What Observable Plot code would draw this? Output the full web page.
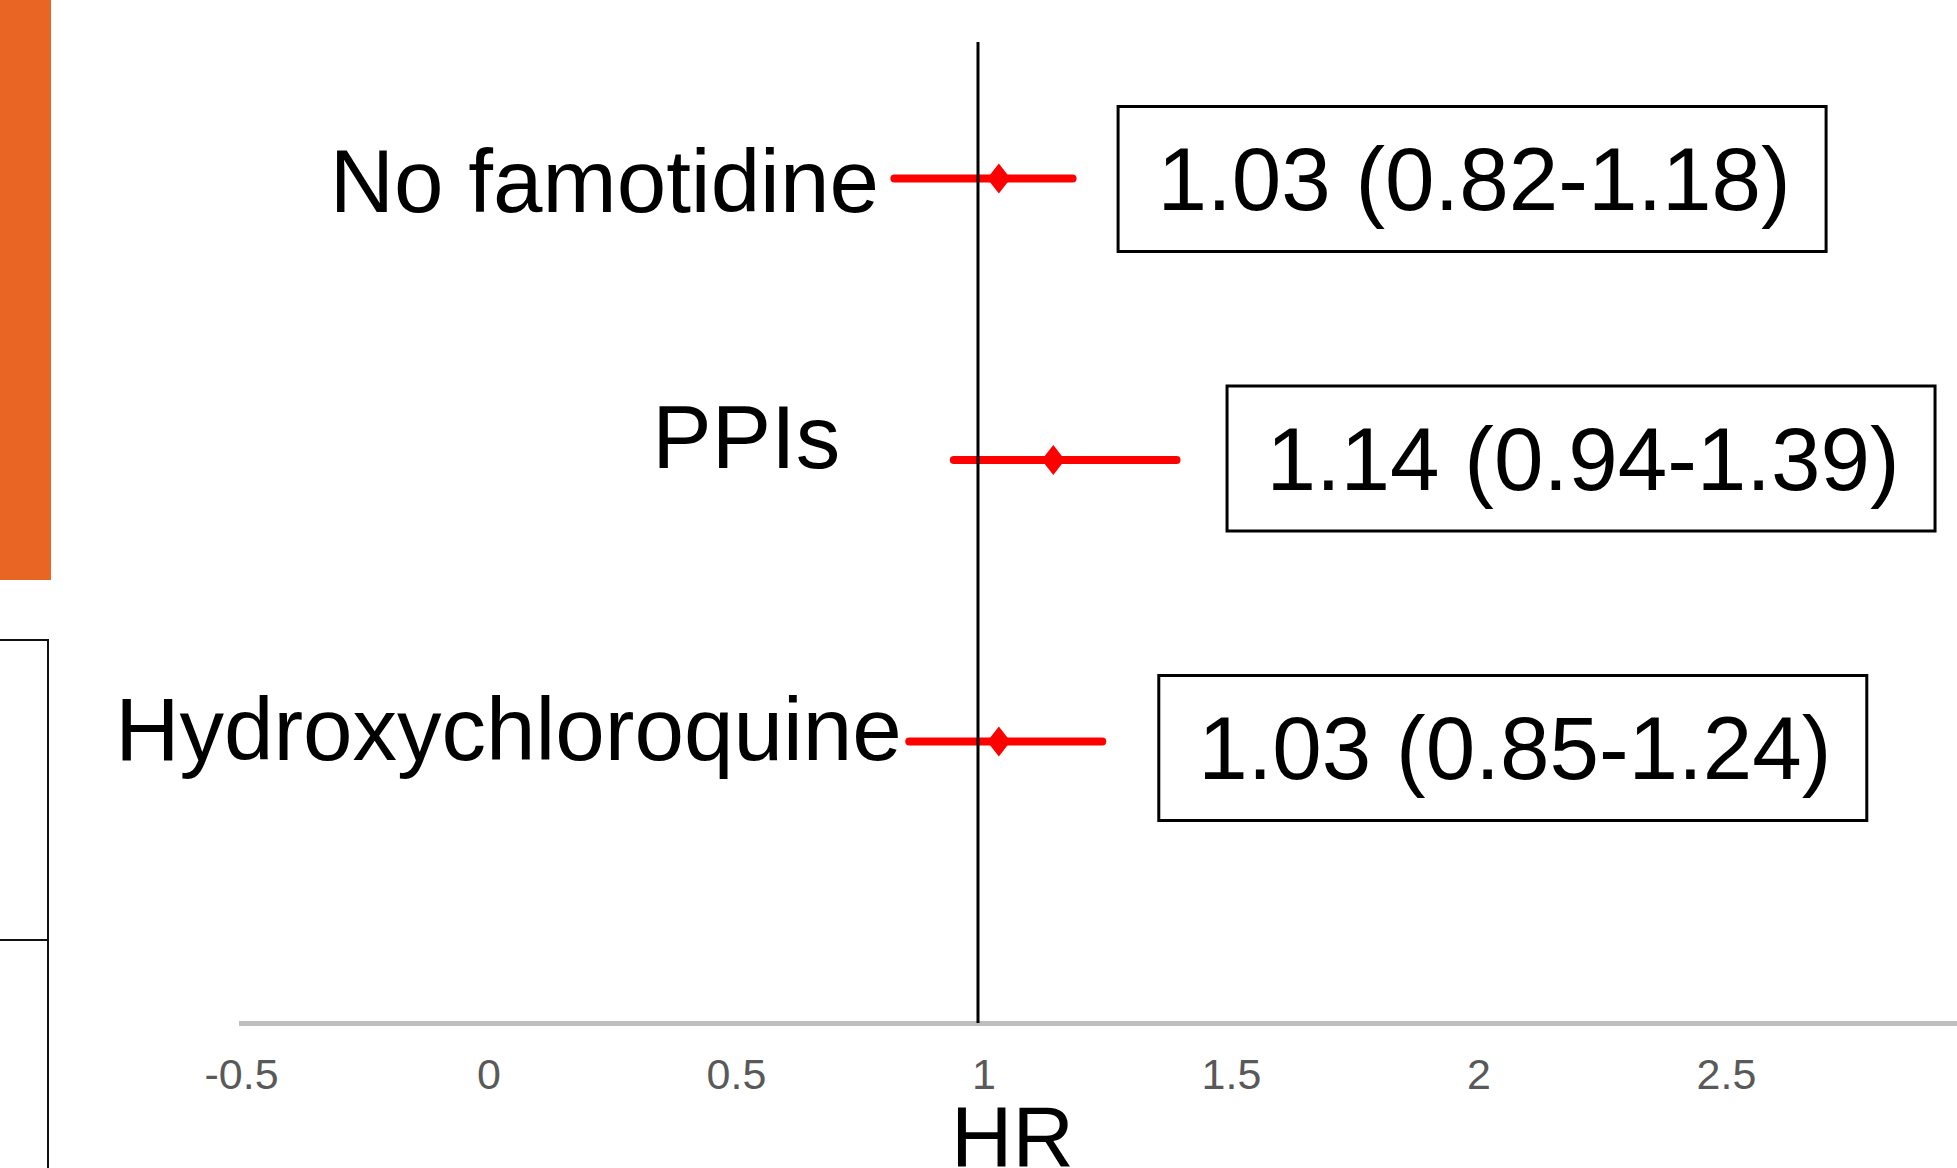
<!DOCTYPE html>
<html>
<head>
<meta charset="utf-8">
<script src="https://cdn.jsdelivr.net/npm/d3@7"></script>
<script src="https://cdn.jsdelivr.net/npm/@observablehq/plot@0.6"></script>
<style>
  html, body { margin: 0; padding: 0; background: #ffffff; }
  #wrap { position: relative; width: 1957px; height: 1168px; overflow: hidden; background: #fff; }
  .deco { position: absolute; box-sizing: border-box; }
</style>
</head>
<body>
<div id="wrap">
  <div id="chart"></div>
  <div class="deco" style="left:0;top:0;width:51px;height:580px;background:#E96524"></div>
  <div class="deco" style="left:-3px;top:639px;width:52px;height:302px;border:2px solid #111"></div>
  <div class="deco" style="left:-3px;top:939px;width:52px;height:400px;border:2px solid #111"></div>
</div>
<script>
// ---- data ----
const rows   = ["No famotidine", "PPIs", "Hydroxychloroquine"];
const hr     = [1.03, 1.14, 1.03];
const lower  = [0.82, 0.94, 0.85];
const upper  = [1.18, 1.39, 1.24];
const xTicks = [-0.5, 0, 0.5, 1, 1.5, 2, 2.5];
const xLabel = "HR";
const refHR  = 1;

// ---- layout (not data) ----
const xDomain = [-0.5, 2.9667];
const labelNudge = [{dx: -16, dy: 33}, {dx: -114, dy: 7.5}, {dx: -8, dy: 18}];
const boxNudge   = [{dx: 399, dy: 0.5}, {dx: 404, dy: -1.5}, {dx: 410, dy: 6.5}];
const BOX_W = 708, BOX_H = 145;
const FONT = "'Liberation Sans', Arial, Helvetica, sans-serif";

const fmt = v => v.toFixed(2);
const table = rows.map((name, i) => ({
  name, i, hr: hr[i], lo: lower[i], hi: upper[i],
  ci: `${fmt(hr[i])} (${fmt(lower[i])}-${fmt(upper[i])})`
}));

const boxSymbol = {draw(ctx) { ctx.rect(-BOX_W / 2, -BOX_H / 2, BOX_W, BOX_H); }};
const diamond = {draw(ctx, size) {
  const r = Math.sqrt(size / Math.PI);
  ctx.moveTo(0, -r); ctx.lineTo(0.78 * r, 0); ctx.lineTo(0, r); ctx.lineTo(-0.78 * r, 0); ctx.closePath();
}};

const rowMarks = table.flatMap((d, i) => [
  Plot.text([d], {
    x: "lo", y: "i", text: "name", textAnchor: "end", lineAnchor: "bottom",
    dx: labelNudge[i].dx, dy: labelNudge[i].dy, fontSize: 89, fill: "black"
  }),
  Plot.dot([d], {
    x: "hi", y: "i", symbol: boxSymbol, r: 5, fill: "none", stroke: "black", strokeWidth: 3,
    dx: boxNudge[i].dx, dy: boxNudge[i].dy
  }),
  Plot.text([d], {
    x: "hi", y: "i", text: "ci", textAnchor: "middle", lineAnchor: "bottom",
    dx: boxNudge[i].dx + 2, dy: boxNudge[i].dy + 31, fontSize: 89, fill: "black"
  })
]);

const chart = Plot.plot({
  width: 1957,
  height: 1168,
  marginLeft: 241,
  marginRight: 0,
  marginTop: 42,
  marginBottom: 145,
  style: {fontFamily: FONT, color: "#595959", background: "white"},
  x: {domain: xDomain},
  y: {domain: [0, 2], range: [178, 741], axis: null},
  marks: [
    Plot.frame({anchor: "bottom", stroke: "#bfbfbf", strokeWidth: 5}),
    Plot.ruleY(table, {x1: "lo", x2: "hi", y: "i", stroke: "#ff0000", strokeWidth: 8, strokeLinecap: "round"}),
    Plot.dot(table, {x: "hr", y: "i", symbol: diamond, r: 15, fill: "#ff0000", stroke: "none"}),
    Plot.ruleX([refHR], {stroke: "black", strokeWidth: 3, dx: -6}),
    ...rowMarks,
    Plot.axisX(xTicks, {tickSize: 0, tickPadding: 35, fontSize: 43, tickFormat: d => String(d), label: null}),
    Plot.text([xLabel], {text: d => d, frameAnchor: "bottom", lineAnchor: "bottom", dx: -87, dy: 142, fontSize: 85, fill: "black"})
  ]
});
document.getElementById("chart").appendChild(chart);
</script>
</body>
</html>
